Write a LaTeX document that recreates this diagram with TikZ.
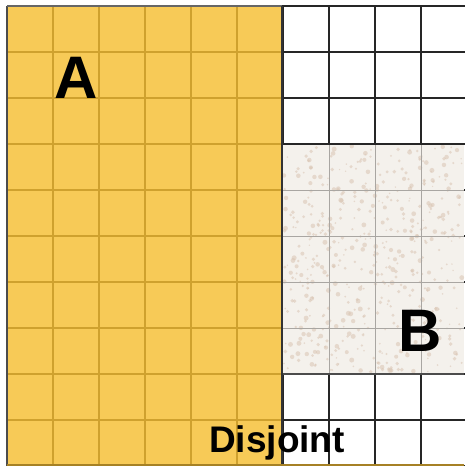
\documentclass[tikz,border=0pt]{standalone}
\usepackage{fontspec}
\setmainfont{Liberation Sans}
\usepackage{xcolor}
\usetikzlibrary{positioning}
\definecolor{setA}{HTML}{F7CA57}
\definecolor{setAline}{HTML}{CFA12E}
\definecolor{setB}{HTML}{F4F1EC}
\definecolor{setBline}{HTML}{A9A6A2}
\definecolor{speck}{HTML}{D9C4B2}
\tikzset{
    cellline/.style={line width=1.6pt, draw=black!85},
    aline/.style={line width=1.5pt, draw=setAline},
    bline/.style={line width=0.9pt, draw=setBline},
    setlabel/.style={font=\bfseries\fontsize{60}{60}\selectfont, inner sep=0pt},
    caption/.style={font=\bfseries\fontsize{37}{37}\selectfont, inner sep=0pt}
}
\begin{document}
\begin{tikzpicture}[x=1pt, y=-1pt]
    \useasboundingbox[fill=white] (0,0) rectangle (464,466);
    % Universum
    \foreach \k in {0,...,10} {
        \draw[cellline] (7+46*\k, 6) -- (7+46*\k, 466);
        \draw[cellline] (7, 6+46*\k) -- (470, 6+46*\k);
    }
    % Menge B
    \fill[setB] (282,144) rectangle (464,374);
    \pgfmathsetseed{7}
    \foreach \i in {1,...,520} {
        \pgfmathsetmacro{\px}{284+rnd*178}
        \pgfmathsetmacro{\py}{146+rnd*226}
        \pgfmathsetmacro{\pr}{0.7+rnd*1.8}
        \fill[speck, opacity=0.55] (\px,\py) circle (\pr);
    }
    \foreach \k in {7,...,9} \draw[bline] (7+46*\k, 144) -- (7+46*\k, 374);
    \foreach \k in {4,...,7} \draw[bline] (282, 6+46*\k) -- (464, 6+46*\k);
    \draw[cellline] (282,144) -- (464,144);
    \draw[line width=1.2pt, draw=black!70] (282,374) -- (464,374);
    % Menge A
    \fill[setA] (7,6) rectangle (282,466);
    \foreach \k in {1,...,5} \draw[aline] (7+46*\k, 6) -- (7+46*\k, 466);
    \foreach \k in {1,...,9} \draw[aline] (7, 6+46*\k) -- (282, 6+46*\k);
    \draw[line width=1.6pt, draw=black!70] (7,6) -- (7,466);
    \draw[line width=1.4pt, draw=black!60] (7,6) -- (282,6);
    \draw[line width=1.6pt, draw=black!80] (282,6) -- (282,466);
    \draw[line width=1.4pt, draw=setAline!80!black] (7,465) -- (464,465);
    % Beschriftungen
    \node[setlabel] (labA) at (76,78) {A};
    \node[setlabel] (labB) at (420,331) {B};
    \node[caption] (capt) at (277,443) {Disjoint};
\end{tikzpicture}
\end{document}
